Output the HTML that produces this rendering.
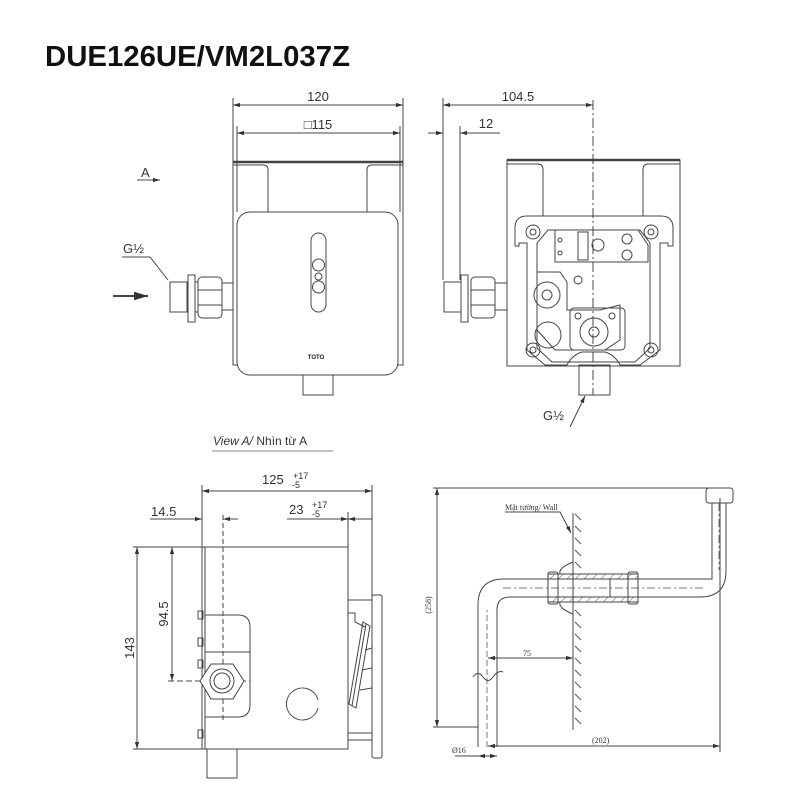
<!DOCTYPE html>
<html><head><meta charset="utf-8"><style>
html,body{margin:0;padding:0;background:#fff;width:800px;height:800px;overflow:hidden}
svg{display:block}
text{font-family:"Liberation Sans",sans-serif;fill:#333}
</style></head><body>
<svg width="800" height="800" viewBox="0 0 800 800" xmlns="http://www.w3.org/2000/svg">
<defs>
<marker id="ar" viewBox="0 0 10 10" refX="10" refY="5" markerWidth="7" markerHeight="7" orient="auto-start-reverse"><path d="M0,2 L10,5 L0,8z" fill="#333"/></marker>
<pattern id="hatch" width="6" height="6" patternUnits="userSpaceOnUse" patternTransform="rotate(45)"><line x1="0" y1="0" x2="0" y2="6" stroke="#555" stroke-width="1"/></pattern>
</defs>
<text x="45" y="66" font-size="29" font-weight="bold" style="fill:#111" textLength="305" lengthAdjust="spacingAndGlyphs">DUE126UE/VM2L037Z</text>

<g fill="none" stroke="#444" stroke-width="1">
<line x1="233" y1="98" x2="233" y2="162"/><line x1="403" y1="98" x2="403" y2="162"/>
<line x1="237" y1="126" x2="237" y2="212"/><line x1="400" y1="126" x2="400" y2="212"/>
<line x1="233" y1="105" x2="403" y2="105" marker-start="url(#ar)" marker-end="url(#ar)"/>
<line x1="237" y1="133" x2="400" y2="133" marker-start="url(#ar)" marker-end="url(#ar)"/>
<rect x="233" y="162" width="170" height="203"/>
<line x1="233" y1="162" x2="403" y2="162" stroke-width="2.5"/>
<path d="M233,165 H263 Q268,165 268,170 V212"/><path d="M403,165 H372 Q367,165 367,170 V212"/>
<rect x="237" y="212" width="161" height="163" rx="13" fill="#fff"/>
<rect x="311" y="233" width="15" height="79" rx="7.5"/>
<circle cx="318.5" cy="265" r="6"/><circle cx="318.5" cy="276.5" r="3.5"/><circle cx="318.5" cy="287" r="6"/>
<rect x="303" y="375" width="30" height="20"/>
<rect x="170" y="282" width="17" height="30"/>
<rect x="188" y="275" width="7" height="47"/>
<rect x="198" y="277" width="24" height="41" rx="4"/>
<line x1="198" y1="290" x2="222" y2="290"/><line x1="198" y1="305" x2="222" y2="305"/>
<line x1="195" y1="282" x2="198" y2="282"/><line x1="195" y1="312" x2="198" y2="312"/>
<line x1="222" y1="283" x2="233" y2="283"/><line x1="222" y1="310" x2="233" y2="310"/>
<path d="M122,257 H150 L168,280"/>
<line x1="137" y1="180" x2="160" y2="180" marker-end="url(#ar)"/>
<line x1="113" y1="296" x2="148" y2="296" stroke-width="2" marker-end="url(#ar)"/>

<line x1="443" y1="98" x2="443" y2="280"/><line x1="460" y1="126" x2="460" y2="280"/>
<line x1="443" y1="105" x2="593" y2="105" marker-start="url(#ar)" marker-end="url(#ar)"/>
<line x1="428" y1="133" x2="443" y2="133" marker-end="url(#ar)"/><line x1="480" y1="133" x2="460" y2="133" marker-end="url(#ar)"/>
<line x1="460" y1="133" x2="500" y2="133"/>
<rect x="507" y="160" width="173" height="206"/>
<line x1="507" y1="160" x2="680" y2="160" stroke-width="2.5"/>
<path d="M507,164 H538 Q543,164 543,170 V216"/><path d="M680,164 H648 Q643,164 643,170 V216"/>
<path d="M527,216 H661 Q673,216 673,228 V246 H668 V243 H660 V350 L640,365 H620 Q615,355 605,352 H582 Q572,355 567,365 H545 L527,350 V243 H519 V246 H515 V228 Q515,216 527,216 Z" fill="#fff"/>
<path d="M548,230 L537,243 V348 L552,362 H635 L650,348 V243 L640,230 Z"/>
<circle cx="533" cy="232" r="7"/><circle cx="533" cy="232" r="3"/>
<circle cx="651" cy="232" r="7"/><circle cx="651" cy="232" r="3"/>
<circle cx="533" cy="350" r="7"/><circle cx="533" cy="350" r="3"/>
<circle cx="651" cy="350" r="7"/><circle cx="651" cy="350" r="3"/>
<path d="M555,230 H638 L648,245 V262 H555 Z"/>
<rect x="578" y="232" width="10" height="28"/>
<circle cx="598" cy="245" r="6"/><circle cx="627" cy="239" r="5"/><circle cx="627" cy="255" r="5"/>
<circle cx="560" cy="240" r="2"/><circle cx="560" cy="253" r="2"/>
<path d="M537,272 H560 L567,282 V310 H600 L620,305 V340 L605,350 H555 L537,330 Z"/>
<circle cx="547" cy="295" r="13"/><circle cx="547" cy="295" r="5"/>
<circle cx="548" cy="335" r="13"/>
<circle cx="578" cy="280" r="4"/>
<rect x="570" y="308" width="55" height="42" rx="4"/>
<circle cx="594" cy="332" r="14"/><circle cx="594" cy="332" r="5"/>
<circle cx="578" cy="316" r="3"/><circle cx="612" cy="316" r="3"/>
<rect x="579" y="365" width="31" height="30"/>
<line x1="593" y1="100" x2="593" y2="395" stroke-dasharray="10,3,2,3"/>
<rect x="444" y="282" width="17" height="30"/>
<rect x="461" y="275" width="7" height="47"/>
<rect x="471" y="277" width="24" height="41" rx="4"/>
<line x1="471" y1="290" x2="495" y2="290"/><line x1="471" y1="305" x2="495" y2="305"/>
<line x1="495" y1="283" x2="507" y2="283"/><line x1="495" y1="310" x2="507" y2="310"/>
<line x1="570" y1="427" x2="585" y2="396" marker-end="url(#ar)"/>

<line x1="212" y1="451" x2="333" y2="451" stroke="#888"/>
<line x1="202" y1="485" x2="202" y2="547"/><line x1="372" y1="485" x2="372" y2="598"/>
<line x1="348" y1="512" x2="348" y2="547"/>
<line x1="202" y1="491" x2="372" y2="491" marker-start="url(#ar)" marker-end="url(#ar)"/>
<line x1="150" y1="519" x2="202" y2="519" marker-end="url(#ar)"/><line x1="238" y1="519" x2="223" y2="519" marker-end="url(#ar)"/>
<line x1="287" y1="519" x2="348" y2="519" marker-end="url(#ar)"/><line x1="372" y1="519" x2="348" y2="519" marker-end="url(#ar)"/>
<line x1="223" y1="515" x2="223" y2="720" stroke-dasharray="5,3"/>
<line x1="133" y1="547" x2="202" y2="547"/><line x1="133" y1="749" x2="202" y2="749"/>
<line x1="168" y1="681" x2="250" y2="681" stroke-dasharray="6,3"/>
<line x1="137" y1="547" x2="137" y2="749" marker-start="url(#ar)" marker-end="url(#ar)"/>
<line x1="172" y1="547" x2="172" y2="681" marker-start="url(#ar)" marker-end="url(#ar)"/>
<rect x="202" y="547" width="146" height="202"/>
<line x1="205" y1="547" x2="205" y2="749"/>
<rect x="198" y="611" width="5" height="8"/><rect x="198" y="638" width="5" height="8"/><rect x="198" y="660" width="5" height="8"/><rect x="198" y="730" width="5" height="8"/>
<path d="M205,615 H238 Q250,615 250,627 V705 Q250,717 238,717 H205"/>
<line x1="205" y1="652" x2="250" y2="652"/>
<polygon points="211,664 233,664 244,681 233,699 211,699 200,681" fill="#fff"/>
<circle cx="222" cy="681" r="12"/><circle cx="222" cy="681" r="8"/>
<path d="M318,708 A16,16 0 1 1 318,700"/>
<rect x="207" y="749" width="30" height="29"/>
<rect x="372" y="595" width="10" height="163" rx="2"/>
<line x1="348" y1="600" x2="372" y2="600"/><line x1="348" y1="740" x2="372" y2="740"/><line x1="348" y1="733" x2="372" y2="733"/>
<path d="M348,613 H355 V622 L365,627"/>
<path d="M363,622 L370,626 L356,708 L349,704 Z"/>
<line x1="366" y1="624" x2="352" y2="706"/>
<path d="M360,690 L372,688 M362,670 L372,668 M365,650 L372,648"/>

<line x1="433" y1="488" x2="720" y2="488"/>
<line x1="437" y1="488" x2="437" y2="727" marker-start="url(#ar)" marker-end="url(#ar)"/>
<line x1="433" y1="727" x2="478" y2="727"/>
<line x1="720" y1="498" x2="720" y2="752"/>
<line x1="573" y1="513" x2="573" y2="730"/>
<path d="M478,747 V605 Q478,579 504,579 H712 Q712,579 712,560 V503"/>
<path d="M497,747 V610 Q497,597 510,597 H700 Q726,597 726,571 V503"/>
<line x1="487" y1="747" x2="487" y2="610" stroke-dasharray="6,3" stroke="#777"/>
<line x1="503" y1="588" x2="705" y2="588" stroke-dasharray="8,3,2,3" stroke="#777"/>
<line x1="719" y1="503" x2="719" y2="570" stroke-dasharray="8,3,2,3" stroke="#777"/>
<rect x="706" y="488" width="27" height="15" rx="3"/>
<rect x="548" y="574" width="90" height="5" fill="url(#hatch)"/>
<rect x="548" y="597" width="90" height="5" fill="url(#hatch)"/>
<rect x="548" y="572" width="10" height="32" rx="2"/><rect x="628" y="572" width="10" height="32" rx="2"/>
<path d="M573,562 Q558,568 560,574 M573,614 Q558,608 560,602"/>
<line x1="610" y1="579" x2="610" y2="597"/>
<path d="M473,677 Q478,670 483,677 T493,677 T503,672"/>
<line x1="488" y1="658" x2="573" y2="658" marker-start="url(#ar)" marker-end="url(#ar)"/>
<line x1="488" y1="746" x2="720" y2="746" marker-start="url(#ar)" marker-end="url(#ar)"/>
<line x1="455" y1="756" x2="478" y2="756"/><line x1="478" y1="756" x2="497" y2="756" marker-start="url(#ar)" marker-end="url(#ar)"/>
<path d="M505,512 H560 L571,533" marker-end="url(#ar)"/>
</g>
<g stroke="#555" stroke-width="1">
<line x1="581" y1="520" x2="575" y2="514"/><line x1="581" y1="532" x2="575" y2="526"/><line x1="581" y1="544" x2="575" y2="538"/><line x1="581" y1="556" x2="575" y2="550"/><line x1="581" y1="568" x2="575" y2="562"/><line x1="581" y1="616" x2="575" y2="610"/><line x1="581" y1="628" x2="575" y2="622"/><line x1="581" y1="640" x2="575" y2="634"/><line x1="581" y1="652" x2="575" y2="646"/><line x1="581" y1="664" x2="575" y2="658"/><line x1="581" y1="676" x2="575" y2="670"/><line x1="581" y1="688" x2="575" y2="682"/><line x1="581" y1="700" x2="575" y2="694"/><line x1="581" y1="712" x2="575" y2="706"/><line x1="581" y1="724" x2="575" y2="718"/>
</g>

<g font-size="13">
<text x="318" y="101" text-anchor="middle">120</text>
<text x="318" y="129" text-anchor="middle">□115</text>
<text x="141" y="177">A</text>
<text x="123" y="253">G½</text>
<text x="316" y="359" font-size="6" font-weight="bold" text-anchor="middle" style="fill:#222">TOTO</text>
<text x="518" y="101" text-anchor="middle">104.5</text>
<text x="486" y="128" text-anchor="middle">12</text>
<text x="543" y="420">G½</text>
<text x="213" y="445" font-size="12"><tspan font-style="italic">View A/</tspan> Nhìn từ A</text>
<text x="262" y="484">125</text>
<text x="293" y="479" font-size="9">+17</text><text x="292" y="488" font-size="9">-5</text>
<text x="151" y="516">14.5</text>
<text x="289" y="514">23</text>
<text x="312" y="508" font-size="9">+17</text><text x="312" y="517" font-size="9">-5</text>
<text transform="translate(134,648) rotate(-90)" text-anchor="middle">143</text>
<text transform="translate(168,614) rotate(-90)" text-anchor="middle">94.5</text>
</g>
<g font-size="8">
<text x="505" y="510" style="font-family:'Liberation Serif',serif">Mặt tường/ Wall</text>
<text x="523" y="656" style="font-family:'Liberation Serif',serif">75</text>
<text x="592" y="743" style="font-family:'Liberation Serif',serif">(202)</text>
<text x="452" y="753" style="font-family:'Liberation Serif',serif">Ø16</text>
<text transform="translate(431,605) rotate(-90)" text-anchor="middle" style="font-family:'Liberation Serif',serif">(258)</text>
</g>
</svg>
</body></html>
